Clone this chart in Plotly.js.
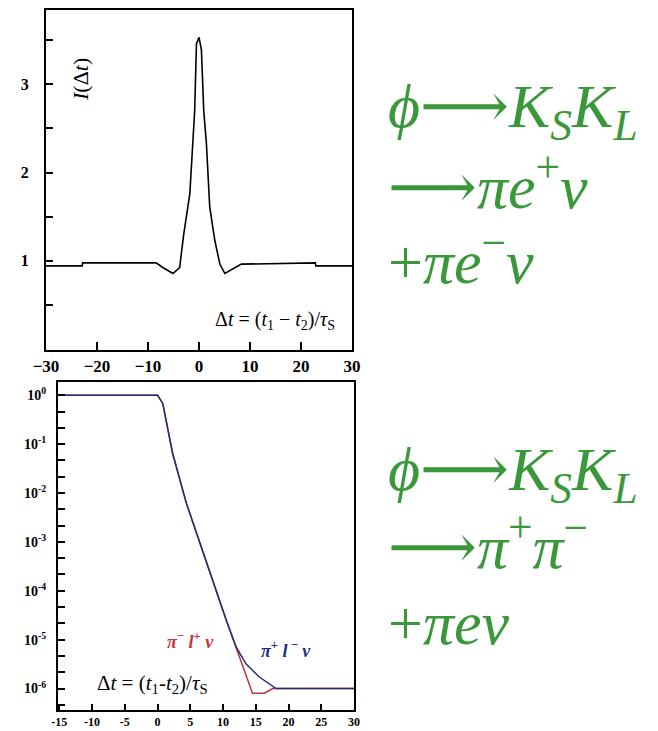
<!DOCTYPE html>
<html>
<head>
<meta charset="utf-8">
<script src="https://cdn.plot.ly/plotly-3.0.1.min.js"></script>
<style>
  html, body { margin: 0; padding: 0; background: #ffffff; }
  #chart { width: 658px; height: 731px; }
</style>
</head>
<body>
<div id="chart"></div>
<script>
// Upper panel: interference intensity I(Δt) for K_S K_L -> πeν + πeν
const dtTop = [-30, -22.9, -22.8, -8.4, -7.1, -5.1, -3.8, -3.0, -1.8, -1.4, -0.85, -0.5, 0, 0.47, 0.93, 1.45, 2.1, 3.1, 4.1, 5.07, 6.7, 8.3, 22.8, 22.9, 30];
const intensity = [0.943, 0.943, 0.977, 0.977, 0.924, 0.856, 0.924, 1.30, 1.76, 2.17, 2.70, 3.46, 3.53, 3.39, 2.70, 2.33, 1.61, 1.23, 0.96, 0.856, 0.906, 0.962, 0.977, 0.943, 0.943];

const topXTicks = [-30, -20, -10, 0, 10, 20, 30];
const topXLabels = ['−30', '−20', '−10', '0', '10', '20', '30'];
const topYTicks = [0.5, 1, 1.5, 2, 2.5, 3, 3.5];
const topYLabels = ['', '1', '', '2', '', '3', ''];

// Lower panel: decay-time distributions for π+π− + πeν
const dtBlue = [-15, 0, 0.8, 1.3, 2.3, 4.4, 6.4, 8.4, 10.5, 12.0, 13.5, 15.5, 18.1, 30];
const rateBlue = [1, 1, 0.68, 0.31, 0.065, 6.2e-3, 1.07e-3, 1.66e-4, 2.5e-5, 7.1e-6, 3.2e-6, 1.74e-6, 1.0e-6, 1.0e-6];
const dtRed = [-15, 0, 0.8, 1.3, 2.3, 4.4, 6.4, 8.4, 10.5, 12.0, 13.5, 14.5, 16.3, 17.6, 18.1, 30];
const rateRed = [1, 1, 0.68, 0.31, 0.065, 6.2e-3, 1.07e-3, 1.66e-4, 2.5e-5, 7.1e-6, 2.0e-6, 8.0e-7, 8.0e-7, 1.0e-6, 1.0e-6, 1.0e-6];

const botXTicks = [-15, -10, -5, 0, 5, 10, 15, 20, 25, 30];
const botXLabels = ['-15', '-10', '-5', '0', '5', '10', '15', '20', '25', '30'];
const decades = [0, -1, -2, -3, -4, -5, -6];

// log ticks: labelled decades plus two unlabelled ticks per decade
const botYTicks = [];
const botYLabels = [];
for (let e = 0; e >= -7; e--) {
  for (let k = 0; k < 3; k++) {
    const p = e - k / 3;
    if (p < -6.44 || p > 0.27) continue;
    botYTicks.push(Math.pow(10, p));
    botYLabels.push(k === 0 && decades.includes(e) ? '10<sup>' + (e === 0 ? '0' : '-' + (-e)) + '</sup>' : '');
  }
}

const green = '#3a983a';
const serif = '"Liberation Serif", "DejaVu Serif", serif';

const traces = [
  { x: dtTop, y: intensity, xaxis: 'x', yaxis: 'y', mode: 'lines',
    line: { color: '#000', width: 1.6 }, hoverinfo: 'skip' },
  { x: dtRed, y: rateRed, xaxis: 'x2', yaxis: 'y2', mode: 'lines',
    line: { color: '#c43434', width: 1.5 }, hoverinfo: 'skip' },
  { x: dtBlue, y: rateBlue, xaxis: 'x2', yaxis: 'y2', mode: 'lines',
    line: { color: '#252a7a', width: 1.5 }, hoverinfo: 'skip' }
];

const axisBase = {
  showline: true, mirror: true, linecolor: '#000', linewidth: 2,
  ticks: 'inside', tickcolor: '#000', tickwidth: 2, showgrid: false,
  zeroline: false, tickmode: 'array'
};

// text placed in figure pixels (from the top-left corner)
function label(px, py, text, size, color, xanchor) {
  return {
    xref: 'paper', yref: 'paper', x: px / 658, y: 1 - py / 731,
    xanchor: xanchor || 'center', yanchor: 'middle',
    text: text, showarrow: false,
    font: { family: serif, size: size, color: color }
  };
}

const layout = {
  width: 658, height: 731,
  margin: { l: 0, r: 0, t: 0, b: 0 },
  paper_bgcolor: '#fff', plot_bgcolor: '#fff',
  showlegend: false,
  xaxis: Object.assign({}, axisBase, {
    domain: [0.0699, 0.535], range: [-30, 30], anchor: 'y',
    tickvals: topXTicks, ticktext: topXLabels, ticklen: 8,
    tickfont: { family: serif, size: 17, color: '#000', weight: 'bold' }
  }),
  yaxis: Object.assign({}, axisBase, {
    domain: [0.5212, 0.9863], range: [-0.01, 3.84], anchor: 'x',
    tickvals: topYTicks, ticktext: topYLabels, ticklen: 7,
    ticklabelstandoff: 12,
    tickfont: { family: serif, size: 16, color: '#000', weight: 'bold' }
  }),
  xaxis2: Object.assign({}, axisBase, {
    domain: [0.0881, 0.538], range: [-15.2, 30], anchor: 'y2',
    tickvals: botXTicks, ticktext: botXLabels, ticklen: 6,
    ticklabelstandoff: 0,
    tickfont: { family: serif, size: 12, color: '#000', weight: 'bold' }
  }),
  yaxis2: Object.assign({}, axisBase, {
    domain: [0.0287, 0.4774], type: 'log', range: [-6.44, 0.27], anchor: 'x2',
    tickvals: botYTicks, ticktext: botYLabels, ticklen: 7,
    ticklabelstandoff: 7,
    tickfont: { family: serif, size: 14, color: '#000', weight: 'bold' }
  }),
  annotations: [
    Object.assign(label(80, 80, '<i>I</i>(Δ<i>t</i>)', 22, '#000'), { textangle: -90 }),
    label(275, 320, 'Δ<i>t</i> = (<i>t</i><sub>1</sub> − <i>t</i><sub>2</sub>)/<i>τ</i><sub>S</sub>', 20, '#000'),
    label(152, 684, 'Δ<i>t</i> = (<i>t</i><sub>1</sub>-<i>t</i><sub>2</sub>)/<i>τ</i><sub>S</sub>', 21, '#000'),
    label(190, 640, '<b><i>π</i><sup>−</sup> <i>l</i><sup>+</sup> <i>ν</i></b>', 18, '#c43434'),
    label(286, 649, '<b><i>π</i><sup>+</sup> <i>l</i><sup> −</sup> <i>ν</i></b>', 18, '#252a7a'),

    // decay chains
    label(386, 110, '<i>ϕ</i>⟶<i>K</i><sub><i>S</i></sub><i>K</i><sub><i>L</i></sub>', 62, green, 'left'),
    label(386, 182, '⟶<i>πe</i><sup>+</sup><i>ν</i>', 62, green, 'left'),
    label(386, 257, '+<i>πe</i><sup>−</sup><i>ν</i>', 62, green, 'left'),
    label(386, 473, '<i>ϕ</i>⟶<i>K</i><sub><i>S</i></sub><i>K</i><sub><i>L</i></sub>', 62, green, 'left'),
    label(386, 542, '⟶<i>π</i><sup>+</sup><i>π</i><sup>−</sup>', 62, green, 'left'),
    label(386, 623, '+<i>πeν</i>', 62, green, 'left')
  ]
};

Plotly.newPlot('chart', traces, layout, { staticPlot: true, displayModeBar: false });
</script>
</body>
</html>
